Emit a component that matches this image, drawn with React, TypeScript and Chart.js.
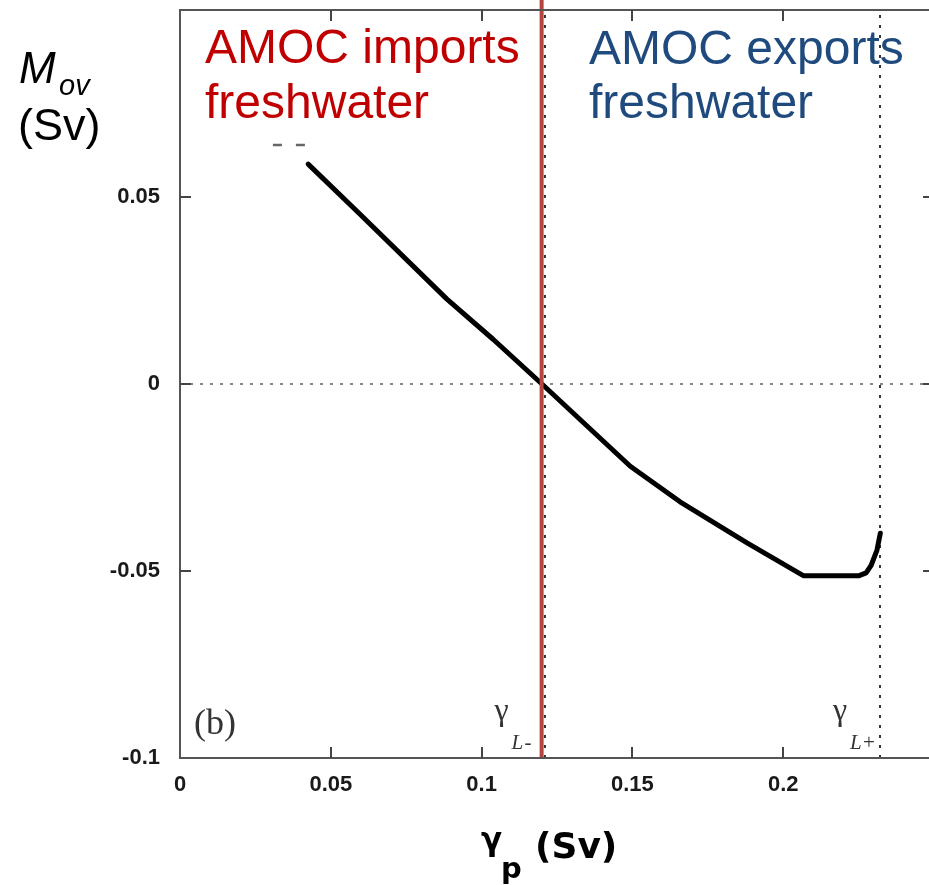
import React, { useEffect, useRef } from 'react';
import { Chart, registerables } from 'chart.js';

Chart.register(...registerables);

// ---- data ----
const gammaP = [0.0425, 0.0597, 0.0885, 0.1039, 0.1200, 0.1493, 0.1658, 0.1880, 0.2068, 0.2250, 0.2275, 0.2292, 0.2311, 0.2322];
const mOv = [0.0588, 0.0454, 0.0227, 0.0119, 0.0000, -0.0220, -0.0315, -0.0425, -0.0513, -0.0513, -0.0505, -0.0484, -0.0444, -0.0399];

const stubX = [0.0308, 0.0415];
const stubY = [0.0639, 0.0639];

const xTickValues = [0, 0.05, 0.1, 0.15, 0.2];
const xTickLabels = ['0', '0.05', '0.1', '0.15', '0.2'];
const yTickValues = [-0.1, -0.05, 0, 0.05];
const yTickLabels = ['-0.1', '-0.05', '0', '0.05'];

const xRange = [0, 0.25];
const yRange = [-0.1, 0.1];

const redDividerX = 0.1199;
const gammaLMinusX = 0.1210;
const gammaLPlusX = 0.2321;
const zeroLineY = 0;

const importsText = ['AMOC imports', 'freshwater'];
const exportsText = ['AMOC exports', 'freshwater'];

const W = 960;
const H = 885;

const decorPlugin = {
  id: 'decor',
  afterDraw(chart: any) {
    const { ctx, chartArea: ca, scales } = chart;
    const x = scales.x;
    const y = scales.y;
    ctx.save();
    // frame
    ctx.strokeStyle = '#555';
    ctx.lineWidth = 2;
    ctx.strokeRect(ca.left, ca.top, ca.right - ca.left, ca.bottom - ca.top);
    // inward ticks
    ctx.lineWidth = 2;
    ctx.strokeStyle = '#444';
    const tl = 11;
    ctx.beginPath();
    xTickValues.forEach((v) => {
      if (v === xRange[0]) return;
      const px = Math.round(x.getPixelForValue(v));
      ctx.moveTo(px, ca.bottom);
      ctx.lineTo(px, ca.bottom - tl);
      ctx.moveTo(px, ca.top);
      ctx.lineTo(px, ca.top + tl);
    });
    yTickValues.forEach((v) => {
      if (v === yRange[0]) return;
      const py = Math.round(y.getPixelForValue(v));
      ctx.moveTo(ca.left, py);
      ctx.lineTo(ca.left + tl, py);
      ctx.moveTo(ca.right, py);
      ctx.lineTo(ca.right - tl, py);
    });
    ctx.stroke();

    ctx.textBaseline = 'alphabetic';
    ctx.textAlign = 'left';
    // region labels
    ctx.font = '48px "Liberation Sans", Arial, sans-serif';
    ctx.fillStyle = '#C00000';
    ctx.fillText(importsText[0], 205, 63);
    ctx.fillText(importsText[1], 205, 118);
    ctx.fillStyle = '#1F4A7E';
    ctx.fillText(exportsText[0], 589, 64);
    ctx.fillText(exportsText[1], 589, 118);

    // y axis title
    ctx.fillStyle = '#000';
    ctx.font = 'italic 44px "Liberation Sans", Arial, sans-serif';
    ctx.fillText('M', 19, 83);
    ctx.font = 'italic 29px "Liberation Sans", Arial, sans-serif';
    ctx.fillText('ov', 59, 95);
    ctx.font = '45px "Liberation Sans", Arial, sans-serif';
    ctx.fillText('(Sv)', 18, 140);

    // x axis title
    ctx.font = 'bold 31px "DejaVu Sans", sans-serif';
    ctx.fillText('γ', 481, 850);
    ctx.font = 'bold 29px "DejaVu Sans", sans-serif';
    ctx.fillText('p', 501, 878);
    ctx.font = 'bold 36px "DejaVu Sans", sans-serif';
    ctx.fillText('(Sv)', 535, 858);

    // panel letter and gamma labels
    ctx.fillStyle = '#333';
    ctx.font = '36px "Liberation Serif", "Times New Roman", serif';
    ctx.fillText('(b)', 194, 734);
    const gl = (lineX: number, sign: string) => {
      const px = x.getPixelForValue(lineX);
      const gx = px - 47;
      ctx.font = '32px "Liberation Serif", serif';
      ctx.fillText('γ', gx, 720);
      ctx.font = 'italic 21px "Liberation Serif", serif';
      ctx.fillText('L', gx + 17, 749);
      ctx.font = '21px "Liberation Serif", serif';
      ctx.fillText(sign, gx + 30, 749);
    };
    gl(redDividerX, '-');
    gl(gammaLPlusX, '+');
    ctx.restore();
  },
};

export default function App() {
  const ref = useRef<HTMLCanvasElement | null>(null);
  useEffect(() => {
    if (!ref.current) return;
    const pts = (xs: number[], ys: number[]) => xs.map((v, i) => ({ x: v, y: ys[i] }));
    const chart = new Chart(ref.current, {
      type: 'line',
      data: {
        datasets: [
          {
            data: [{ x: redDividerX, y: yRange[0] }, { x: redDividerX, y: yRange[1] + 0.0027 }],
            borderColor: '#B5453F',
            borderWidth: 4,
            pointRadius: 0,
            clip: false as any,
          },
          {
            data: pts(gammaP, mOv),
            borderColor: '#000',
            borderWidth: 5,
            pointRadius: 0,
            borderCapStyle: 'round',
            borderJoinStyle: 'round',
          },
          {
            data: pts(stubX, stubY),
            borderColor: '#666',
            borderWidth: 2.5,
            borderDash: [9, 14],
            pointRadius: 0,
            clip: false as any,
          },
          {
            data: [{ x: xRange[0], y: zeroLineY }, { x: xRange[1], y: zeroLineY }],
            borderColor: '#888',
            borderWidth: 2,
            borderDash: [3, 7],
            pointRadius: 0,
          },
          {
            data: [{ x: gammaLMinusX, y: yRange[0] }, { x: gammaLMinusX, y: yRange[1] }],
            borderColor: '#333',
            borderWidth: 2,
            borderDash: [3, 7],
            pointRadius: 0,
          },
          {
            data: [{ x: gammaLPlusX, y: yRange[0] }, { x: gammaLPlusX, y: yRange[1] }],
            borderColor: '#333',
            borderWidth: 2,
            borderDash: [3, 7],
            pointRadius: 0,
          },
        ],
      },
      options: {
        responsive: false,
        animation: false,
        devicePixelRatio: 1,
        layout: { padding: { left: 0, top: 10, right: 26, bottom: 0 } },
        plugins: { legend: { display: false }, tooltip: { enabled: false }, title: { display: false } },
        elements: { line: { tension: 0 } },
        scales: {
          x: {
            type: 'linear',
            min: xRange[0],
            max: xRange[1],
            grid: { display: false, drawTicks: false },
            border: { display: false },
            afterBuildTicks: (s: any) => {
              s.ticks = xTickValues.map((v) => ({ value: v }));
            },
            afterFit: (s: any) => {
              s.height = 127;
              s.paddingLeft = 0;
              s.paddingRight = 0;
            },
            ticks: {
              padding: 14,
              maxRotation: 0,
              autoSkip: false,
              color: '#1a1a1a',
              font: { family: '"Liberation Sans", Arial, sans-serif', size: 22, weight: 'bold' },
              callback: (v: any) => {
                const i = xTickValues.findIndex((t) => Math.abs(t - Number(v)) < 1e-9);
                return i >= 0 ? xTickLabels[i] : '';
              },
            },
          },
          y: {
            type: 'linear',
            min: yRange[0],
            max: yRange[1],
            grid: { display: false, drawTicks: false },
            border: { display: false },
            afterBuildTicks: (s: any) => {
              s.ticks = yTickValues.map((v) => ({ value: v }));
            },
            afterFit: (s: any) => {
              s.width = 180;
              s.paddingTop = 0;
              s.paddingBottom = 0;
            },
            ticks: {
              padding: 20,
              autoSkip: false,
              color: '#1a1a1a',
              font: { family: '"Liberation Sans", Arial, sans-serif', size: 22, weight: 'bold' },
              callback: (v: any) => {
                const i = yTickValues.findIndex((t) => Math.abs(t - Number(v)) < 1e-9);
                return i >= 0 ? yTickLabels[i] : '';
              },
            },
          },
        },
      },
      plugins: [decorPlugin],
    });
    return () => chart.destroy();
  }, []);
  return (
    <div style={{ position: 'fixed', left: 0, top: 0, width: 929, height: 885, overflow: 'hidden', background: '#fff' }}>
      <canvas ref={ref} width={W} height={H} style={{ display: 'block', width: W, height: H }} />
    </div>
  );
}
